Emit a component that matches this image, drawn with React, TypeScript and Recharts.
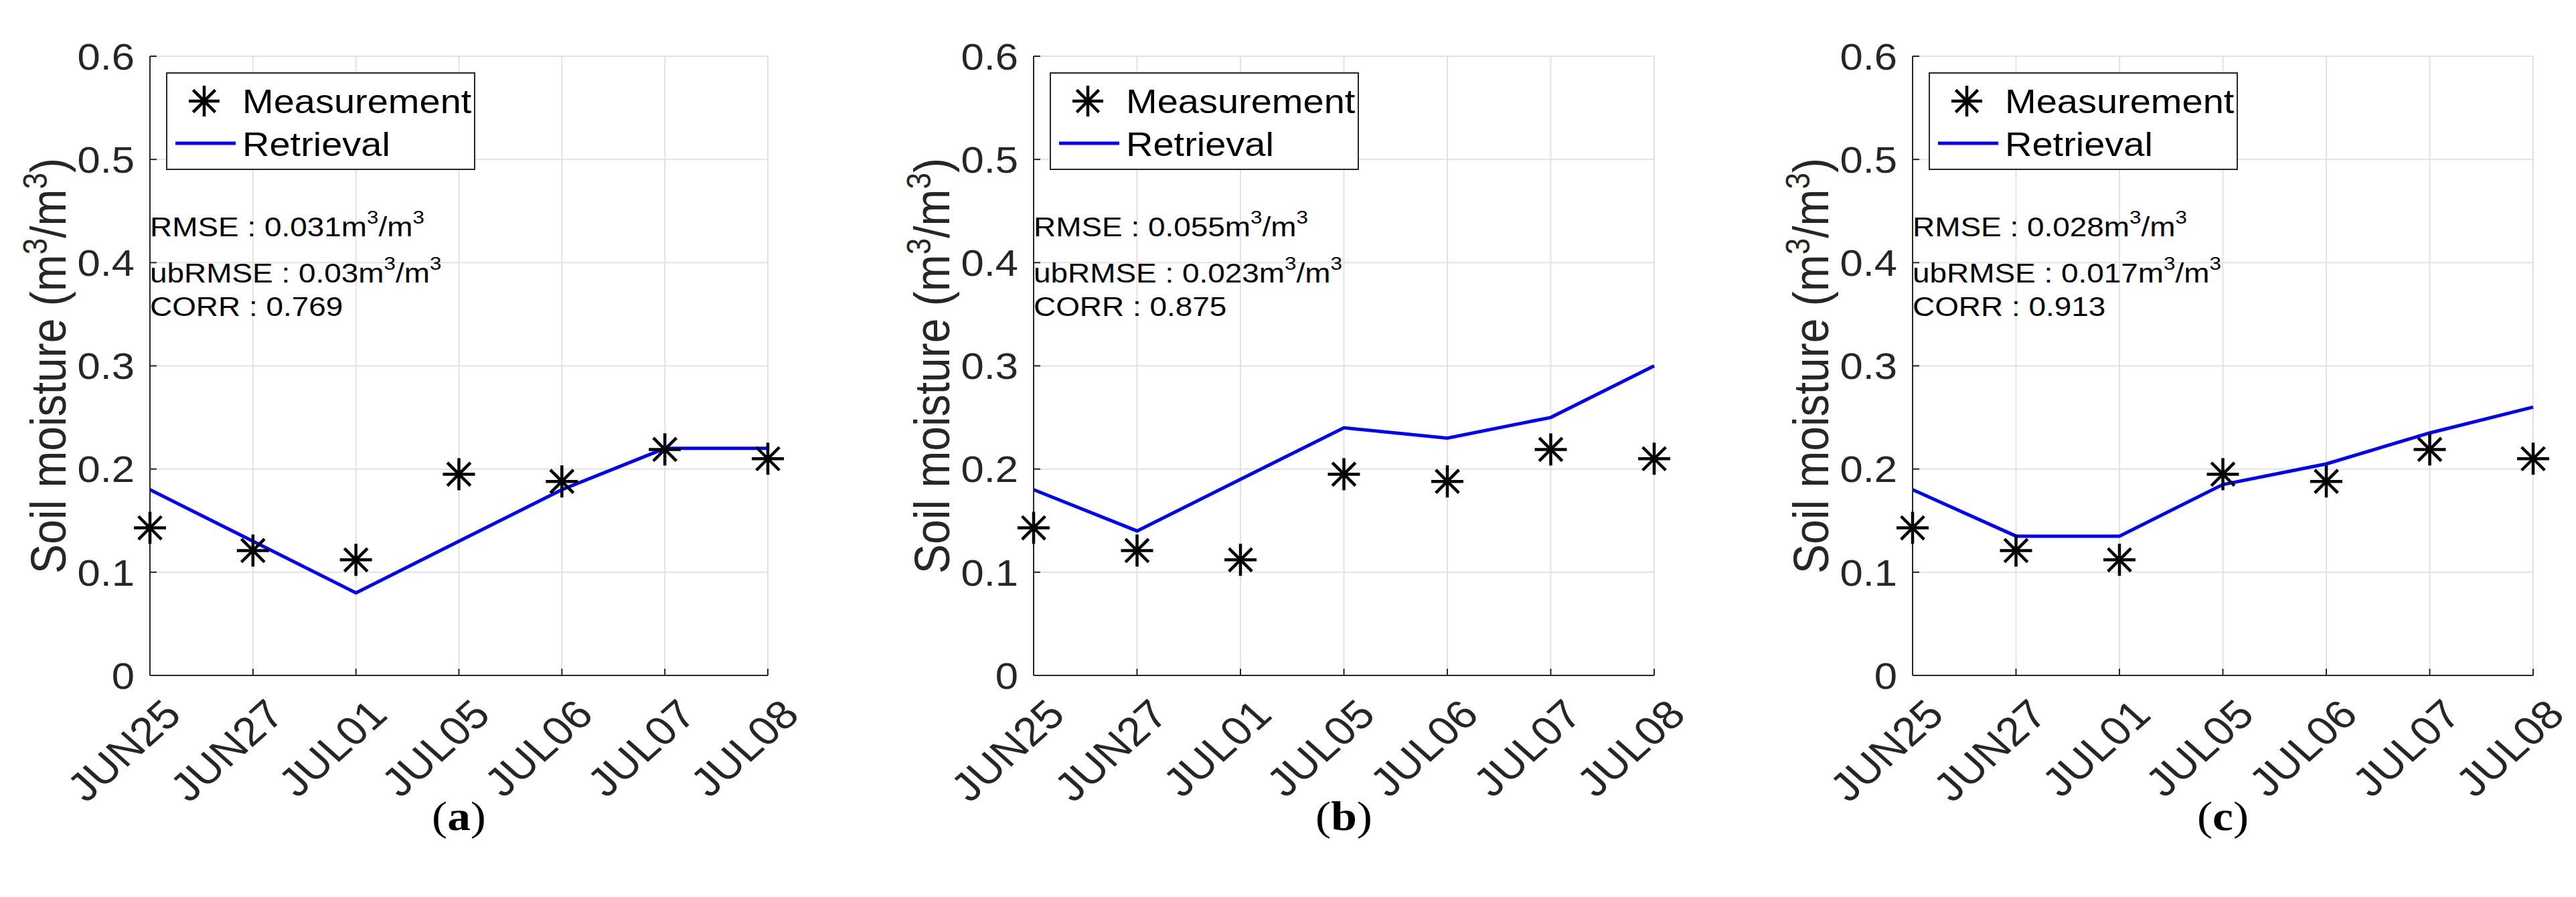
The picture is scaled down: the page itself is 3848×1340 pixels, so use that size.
import React from 'react';
import { LineChart, Line, XAxis, YAxis, CartesianGrid } from 'recharts';

const dates = ['JUN25', 'JUN27', 'JUL01', 'JUL05', 'JUL06', 'JUL07', 'JUL08'];
const dateIndex = [0, 1, 2, 3, 4, 5, 6];
const measured = [0.143, 0.121, 0.112, 0.195, 0.188, 0.219, 0.21];
const retrievalA = [0.18, 0.13, 0.08, 0.13, 0.18, 0.22, 0.22];
const retrievalB = [0.18, 0.14, 0.19, 0.24, 0.23, 0.25, 0.3];
const retrievalC = [0.18, 0.135, 0.135, 0.185, 0.205, 0.235, 0.26];
const yTicks = [0, 0.1, 0.2, 0.3, 0.4, 0.5, 0.6];

const tags = ['a', 'b', 'c'];
const rmse = ['0.031', '0.055', '0.028'];
const ubrmse = ['0.03', '0.023', '0.017'];
const corr = ['0.769', '0.875', '0.913'];

const FONT = '"Liberation Sans", Arial, Helvetica, sans-serif';
const SERIF = '"Liberation Serif", "Times New Roman", serif';
const INK = '#262626';
const H = 1340;
const TOP = 84;
const BOTTOM = 1009;
const AXIS_W = 224;
const RIGHT = 100;
// glyphs in this figure are drawn slightly wide
const SX = 1.12;

const Asterisk = ({ cx, cy, r = 24 }: { cx: number; cy: number; r?: number }) => {
  const d = r * 0.72;
  return (
    <g stroke="#000" strokeWidth={4.5}>
      <line x1={cx - r} y1={cy} x2={cx + r} y2={cy} />
      <line x1={cx} y1={cy - r} x2={cx} y2={cy + r} />
      <line x1={cx - d} y1={cy - d} x2={cx + d} y2={cy + d} />
      <line x1={cx - d} y1={cy + d} x2={cx + d} y2={cy - d} />
    </g>
  );
};

const DateTick = (props: any) => {
  const { x, y, payload } = props;
  return (
    <text
      x={0}
      y={0}
      transform={`translate(${x + 50}, ${y + 62}) scale(${SX}, 1) rotate(-45)`}
      textAnchor="end"
      fontSize={60}
      fontFamily={FONT}
      fill={INK}
    >
      {dates[payload.value]}
    </text>
  );
};

const MoistureTick = (props: any) => {
  const { x, y, payload } = props;
  const v: number = payload.value;
  return (
    <text
      x={0}
      y={0}
      dy="0.36em"
      transform={`translate(${x}, ${y}) scale(${SX}, 1)`}
      textAnchor="end"
      fontSize={55}
      fontFamily={FONT}
      fill={INK}
    >
      {v === 0 ? '0' : v.toFixed(1)}
    </text>
  );
};

// text line placed with the figure's horizontal stretch
const Wide = ({ x, y, size, anchor = 'start', children }: any) => (
  <text
    x={0}
    y={0}
    transform={`translate(${x}, ${y}) scale(${SX}, 1)`}
    fontSize={size}
    textAnchor={anchor}
    fill="#000"
  >
    {children}
  </text>
);

const Unit = () => (
  <>
    m<tspan dy={-19} fontSize={28}>3</tspan>
    <tspan dy={19}>/m</tspan>
    <tspan dy={-19} fontSize={28}>3</tspan>
  </>
);

interface PanelProps {
  idx: number;
  left: number;
  plotW: number;
  retrieval: number[];
}

const Panel = ({ idx, left, plotW, retrieval }: PanelProps) => {
  const width = AXIS_W + plotW + RIGHT;
  const data = dateIndex.map((i) => ({ i, measured: measured[i], retrieval: retrieval[i] }));
  const cx = AXIS_W + plotW / 2;
  return (
    <div style={{ position: 'absolute', left, top: 0, width, height: H }}>
      <LineChart
        width={width}
        height={H}
        data={data}
        margin={{ top: TOP, right: RIGHT, left: 0, bottom: H - BOTTOM - 200 }}
      >
        <CartesianGrid stroke="#e2e2e2" strokeWidth={2} horizontalValues={yTicks} />
        <XAxis
          dataKey="i"
          type="number"
          domain={[0, 6]}
          ticks={dateIndex}
          height={200}
          tickSize={-10}
          tickMargin={10}
          tick={<DateTick />}
          axisLine={{ stroke: INK, strokeWidth: 2 }}
          tickLine={{ stroke: INK, strokeWidth: 2 }}
          interval={0}
        />
        <XAxis
          xAxisId="top"
          orientation="top"
          dataKey="i"
          type="number"
          domain={[0, 6]}
          ticks={dateIndex}
          height={0}
          tickSize={-10}
          tick={false}
          axisLine={{ stroke: INK, strokeWidth: 2 }}
          tickLine={{ stroke: INK, strokeWidth: 2 }}
        />
        <YAxis
          type="number"
          domain={[0, 0.6]}
          ticks={yTicks}
          width={AXIS_W}
          tickSize={-10}
          tickMargin={33}
          tick={<MoistureTick />}
          axisLine={{ stroke: INK, strokeWidth: 2 }}
          tickLine={{ stroke: INK, strokeWidth: 2 }}
          interval={0}
        />
        <YAxis
          yAxisId="right"
          orientation="right"
          type="number"
          domain={[0, 0.6]}
          ticks={yTicks}
          width={0}
          tickSize={-10}
          tick={false}
          axisLine={{ stroke: INK, strokeWidth: 2 }}
          tickLine={{ stroke: INK, strokeWidth: 2 }}
        />
        <Line
          dataKey="retrieval"
          stroke="#0000ff"
          strokeWidth={5}
          dot={false}
          isAnimationActive={false}
        />
        <Line
          dataKey="measured"
          stroke="none"
          dot={(p: any) => <Asterisk key={p.index} cx={p.cx} cy={p.cy} />}
          activeDot={false}
          isAnimationActive={false}
        />
      </LineChart>
      <svg
        width={width}
        height={H}
        style={{ position: 'absolute', left: 0, top: 0, pointerEvents: 'none' }}
        fontFamily={FONT}
      >
        {/* y axis title */}
        <text
          x={0}
          y={0}
          transform={`translate(98, ${(TOP + BOTTOM) / 2}) scale(${SX}, 1) rotate(-90)`}
          textAnchor="middle"
          fontSize={66}
          fill={INK}
        >
          Soil moisture (m<tspan dy={-25} fontSize={44}>3</tspan>
          <tspan dy={25}>/m</tspan>
          <tspan dy={-25} fontSize={44}>3</tspan>
          <tspan dy={25}>)</tspan>
        </text>

        {/* legend */}
        <g transform="translate(249, 109)">
          <rect x={0} y={0} width={460} height={144} fill="#fff" stroke={INK} strokeWidth={2} />
          <Asterisk cx={56} cy={42} r={23} />
          <Wide x={113} y={60} size={50}>Measurement</Wide>
          <line x1={13} y1={105} x2={103} y2={105} stroke="#0000ff" strokeWidth={5} />
          <Wide x={113} y={124} size={50}>Retrieval</Wide>
        </g>

        {/* statistics */}
        <Wide x={AXIS_W} y={353} size={41}>
          RMSE : {rmse[idx]}<Unit />
        </Wide>
        <Wide x={AXIS_W} y={422} size={41}>
          ubRMSE : {ubrmse[idx]}<Unit />
        </Wide>
        <Wide x={AXIS_W} y={472} size={41}>
          CORR : {corr[idx]}
        </Wide>

        {/* panel tag */}
        <text
          x={0}
          y={0}
          transform={`translate(${cx}, 1240) scale(${SX}, 1)`}
          textAnchor="middle"
          fontSize={62}
          fontFamily={SERIF}
          fill="#000"
        >
          (<tspan fontWeight="bold">{tags[idx]}</tspan>)
        </text>
      </svg>
    </div>
  );
};

export default function App() {
  return (
    <div
      style={{
        position: 'absolute',
        left: 0,
        top: 0,
        width: 3848,
        height: H,
        background: '#fff',
        overflow: 'hidden',
      }}
    >
      <Panel idx={0} left={0} plotW={923} retrieval={retrievalA} />
      <Panel idx={1} left={1320} plotW={927} retrieval={retrievalB} />
      <Panel idx={2} left={2633} plotW={927} retrieval={retrievalC} />
    </div>
  );
}
